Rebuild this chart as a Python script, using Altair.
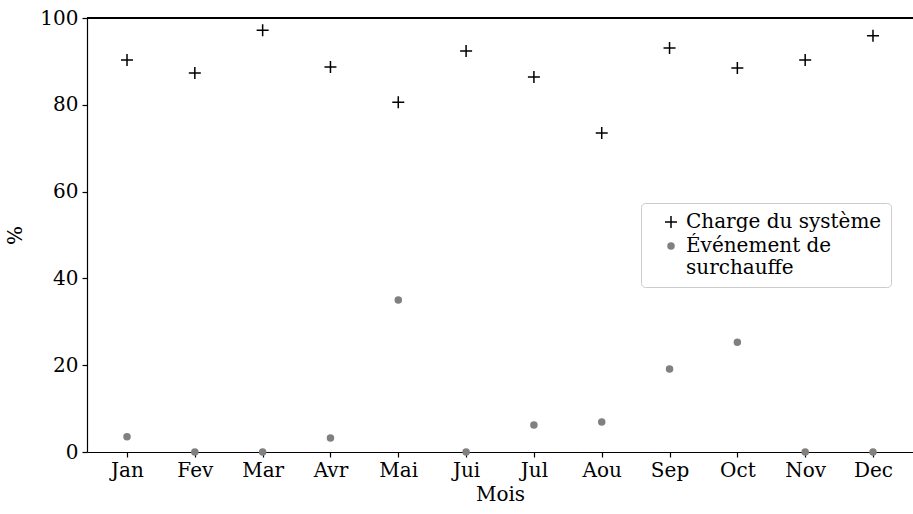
import altair as alt
import pandas as pd

months = ["Jan", "Fev", "Mar", "Avr", "Mai", "Jui", "Jul", "Aou", "Sep", "Oct", "Nov", "Dec"]
charge = [90.3, 87.3, 97.2, 88.7, 80.6, 92.4, 86.4, 73.5, 93.1, 88.5, 90.3, 95.9]
surchauffe = [3.5, 0.0, 0.0, 3.2, 35.0, 0.0, 6.2, 6.9, 19.1, 25.3, 0.0, 0.0]
series = ["Charge du système", "Événement de surchauffe"]

rows = []
for m, c, s in zip(months, charge, surchauffe):
    rows.append({"Mois": m, "val": c, "serie": series[0]})
    rows.append({"Mois": m, "val": s, "serie": series[1]})
df = pd.DataFrame(rows)

FONT = "DejaVu Serif"
PLUS = "M-2,0H2M0,-2V2"

x = alt.X("Mois:N", sort=months, title="Mois",
          scale=alt.Scale(type="point", padding=0.59),
          axis=alt.Axis(labelAngle=0, tickSize=5, labelPadding=3, titlePadding=4))
y = alt.Y("val:Q", title="%", scale=alt.Scale(domain=[0, 100], nice=False, zero=True),
          axis=alt.Axis(values=[0, 20, 40, 60, 80, 100], tickSize=5, grid=False,
                        labelPadding=4, titlePadding=14))

leg = alt.Legend(title=None, orient="none", legendX=554, legendY=185,
                 labelExpr="datum.label == 'Événement de surchauffe' ? ['Événement de', 'surchauffe'] : datum.label",
                 strokeColor="#cccccc", padding=9, cornerRadius=4, labelLimit=400,
                 fillColor="white", rowPadding=4, symbolSize=36, symbolStrokeWidth=1.5,
                 symbolOffset=11, labelOffset=5)

cscale = alt.Scale(domain=series, range=["#000000", "#808080"])

pts = alt.Chart(df).mark_point(filled=True, size=36, strokeWidth=1.5, opacity=1).encode(
    x=x, y=y,
    color=alt.Color("serie:N", scale=cscale, legend=leg),
    stroke=alt.Stroke("serie:N", scale=cscale, legend=leg),
    shape=alt.Shape("serie:N", scale=alt.Scale(domain=series, range=[PLUS, "circle"]), legend=leg),
)

top = alt.Chart(df).mark_rule(color="black", strokeWidth=1.2).encode(y=alt.datum(100))

chart = alt.layer(top, pts).properties(
    width=826, height=434,
    padding={"left": 87, "top": 18, "right": 0, "bottom": 62},
    autosize=alt.AutoSizeParams(type="none"),
).configure_view(stroke=None).configure_axis(
    labelFont=FONT, titleFont=FONT, labelFontSize=20, titleFontSize=20,
    labelColor="black", titleColor="black", domainColor="black", tickColor="black",
    domainWidth=1.2, tickWidth=1.2, titleFontWeight="normal"
).configure_legend(labelFont=FONT, labelFontSize=20, labelColor="black")

chart.save("out.html", embed_options={"renderer": "svg", "actions": False})
